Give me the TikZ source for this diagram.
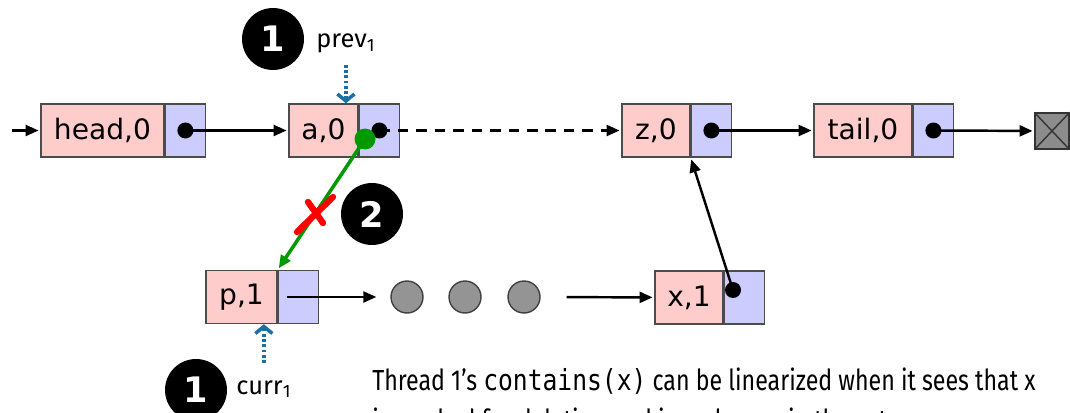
\documentclass[tikz,border=0pt]{standalone}
\usepackage{fontspec}
\setmainfont{DejaVu Sans}
\newfontfamily\labelfont{Fira Sans}
\newfontfamily\notefont[FakeStretch=0.8]{Fira Sans}
\newfontfamily\notemono[FakeStretch=0.85]{DejaVu Sans Mono}
\usetikzlibrary{arrows.meta, positioning}
\definecolor{keypink}{RGB}{255,204,204}
\definecolor{ptrblue}{RGB}{204,204,255}
\definecolor{markgreen}{RGB}{0,153,0}
\definecolor{varblue}{RGB}{26,112,163}

\begin{document}
\begin{tikzpicture}[
    x=0.02cm, y=-0.02cm,
    key/.style={draw=black!70, line width=0.8pt, fill=keypink, minimum height=1.06cm, inner sep=0pt, font=\fontsize{16}{19}\selectfont},
    ptr/.style={draw=black!70, line width=0.8pt, fill=ptrblue, minimum height=1.06cm, minimum width=0.8cm, inner sep=0pt},
    dot/.style={circle, fill=black, inner sep=0pt, minimum size=0.32cm},
    hidden/.style={circle, draw=black!75, line width=0.8pt, fill=black!42, minimum size=0.64cm, inner sep=0pt},
    badge/.style={circle, fill=black, text=white, inner sep=0pt, minimum size=1.24cm, font=\bfseries\fontsize{20}{23}\selectfont},
    var/.style={inner sep=0pt, font=\labelfont\fontsize{14.5}{17}\selectfont},
    note/.style={anchor=base west, inner sep=0pt, font=\notefont\fontsize{16.5}{20}\selectfont},
    arrow/.style={-{Triangle[length=0.26cm, width=0.22cm]}, line width=1.4pt, shorten >=1pt},
    varptr/.style={-{Straight Barb[length=0.14cm, width=0.34cm]}, varblue, line width=2pt, dash pattern=on 1.6pt off 1.4pt},
]
    \useasboundingbox (0,0) rectangle (1070,412);

    \node[key, minimum width=2.46cm] (head) at (102.5,130.5) {head,0};
    \node[ptr, right=0pt of head] (headp) {};
    \node[key, minimum width=1.38cm] (a) at (323.5,130.5) {a,0};
    \node[ptr, right=0pt of a] (ap) {};
    \node[key, minimum width=1.36cm] (z) at (656,130.5) {z,0};
    \node[ptr, right=0pt of z] (zp) {};
    \node[key, minimum width=1.96cm] (tail) at (863,130.5) {tail,0};
    \node[ptr, right=0pt of tail] (tailp) {};
    \node[draw=black!80, line width=0.8pt, fill=black!45, minimum width=0.68cm, minimum height=0.72cm, inner sep=0pt] (null) at (1052,131) {};
    \draw[black!80, line width=0.8pt] (null.north west) -- (null.south east) (null.north east) -- (null.south west);

    \node[key, minimum width=1.42cm] (p) at (241.5,297) {p,1};
    \node[ptr, right=0pt of p] (pp) {};
    \node[hidden] (g1) at (407,297) {};
    \node[hidden] (g2) at (465,297) {};
    \node[hidden] (g3) at (524,297) {};
    \node[key, minimum width=1.36cm] (x) at (689,297.5) {x,1};
    \node[ptr, right=0pt of x] (xp) {};

    \node[dot] (headd) at (headp) {};
    \node[dot] (ad) at (ap) {};
    \node[dot] (zd) at (zp) {};
    \node[dot] (taild) at (tailp) {};
    \node[dot] (xd) at (733,290) {};

    \coordinate (entry) at (12,130.5);
    \draw[arrow] (entry) -- (head);
    \draw[arrow] (headd.center) -- (a);
    \draw[arrow, dash pattern=on 6pt off 4.5pt] (ad.center) -- (z);
    \draw[arrow] (zd.center) -- (tail);
    \draw[arrow] (taild.center) -- (null);
    \draw[arrow, shorten <=0.18cm, shorten >=0.28cm] (pp.west) -- (g1);
    \draw[arrow, shorten <=0.52cm] (g3) -- (x);
    \draw[arrow] (xd.center) -- (z.south east);

    \node[circle, fill=markgreen, minimum size=0.42cm, inner sep=0pt] (mark) at (365,139) {};
    \draw[arrow, markgreen, line width=2pt] (mark.center) -- (pp.north west);
    \draw[red, line width=3.6pt, line cap=round] (297,232) -- (333,197) (308,202) -- (323,223);

    \node[badge] (one) at (273,39) {1};
    \node[var, anchor=base west] (prev) at (316,48) {prev\textsubscript{1}};
    \draw[varptr, shorten <=0.22cm] (prev.south) -- (prev.south |- a.north);

    \node[badge] (two) at (372,214) {2};

    \node[badge] (onebot) at (196,390) {1};
    \node[var, anchor=base west] (curr) at (236,394) {curr\textsubscript{1}};
    \draw[varptr, shorten <=0.34cm] (curr.north) -- (curr.north |- p.south);

    \node[note] (note1) at (372,390) {Thread 1’s {\notemono contains(x)} can be linearized when it sees that x};
    \node[note] (note2) at (372,430) {is marked for deletion and is no longer in the set.};
\end{tikzpicture}
\end{document}
